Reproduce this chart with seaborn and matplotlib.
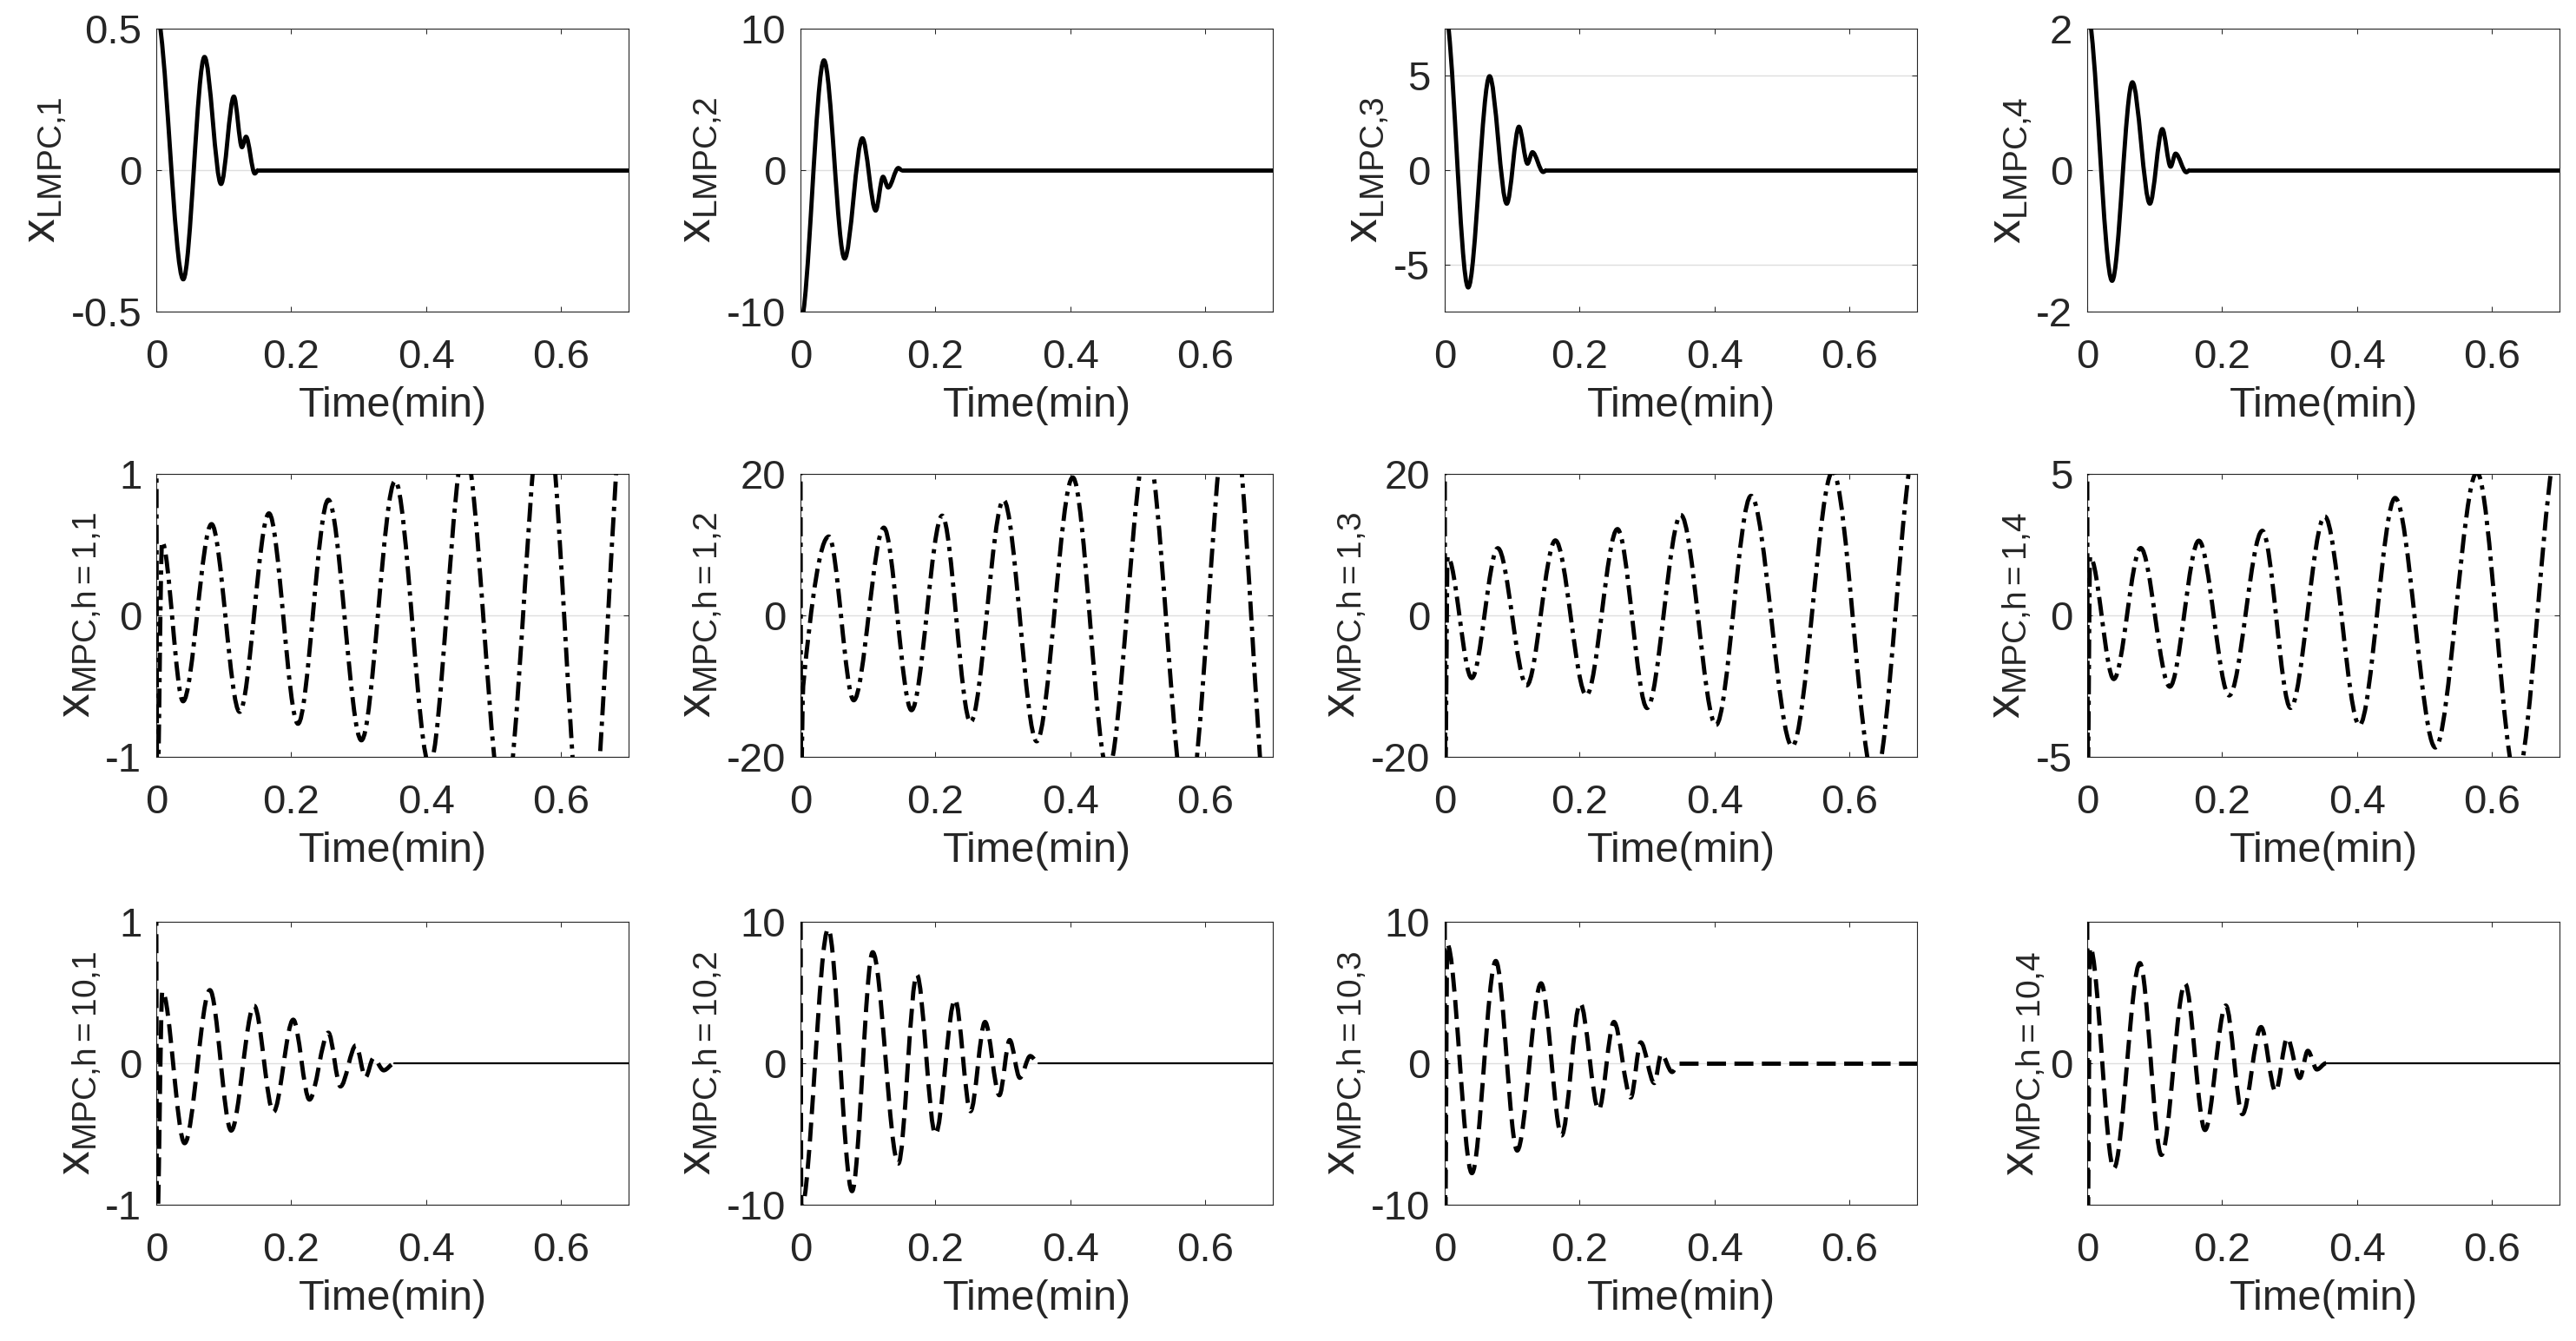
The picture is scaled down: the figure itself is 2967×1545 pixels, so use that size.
"""Closed-loop state trajectories: LMPC vs MPC (h=1, h=10), 3x4 grid."""

import matplotlib
matplotlib.use("Agg")
import matplotlib.pyplot as plt
from matplotlib.path import Path
from matplotlib.patches import PathPatch
from matplotlib.ticker import FormatStrFormatter
import numpy as np
import seaborn as sns

sns.set_theme(style="ticks")
plt.rcParams.update({
    "axes.unicode_minus": False,
    "mathtext.fontset": "custom",
    "mathtext.rm": "Liberation Sans",
    "mathtext.it": "Liberation Sans",
})
plt.rcParams["font.family"] = ["Liberation Sans", "DejaVu Sans"]
INK = "#262626"

# ── data (time in min, turning points of each trace) ──
# row 1: LMPC
t_l1 = [0, 0.040, 0.0715, 0.096, 0.115, 0.127, 0.133, 0.146, 0.151, 0.70]
x_l1 = [0.56, -0.386, 0.40, -0.049, 0.26, 0.081, 0.118, -0.012, 0.0, 0.0]
t_l2 = [0, 0.0348, 0.0654, 0.0917, 0.1114, 0.1223, 0.130, 0.145, 0.150, 0.70]
x_l2 = [-10.8, 7.76, -6.25, 2.25, -2.86, -0.47, -1.23, 0.15, 0.0, 0.0]
t_l3 = [0, 0.0348, 0.0665, 0.092, 0.110, 0.1227, 0.130, 0.146, 0.151, 0.70]
x_l3 = [8.6, -6.22, 4.98, -1.78, 2.30, 0.34, 0.95, -0.10, 0.0, 0.0]
t_l4 = [0, 0.0369, 0.067, 0.0929, 0.1113, 0.1236, 0.131, 0.147, 0.152, 0.70]
x_l4 = [2.25, -1.565, 1.242, -0.474, 0.58, 0.049, 0.233, -0.03, 0.0, 0.0]

# row 2: MPC, h=1
t_a1 = [0, 0.0012, 0.0086, 0.0397, 0.0819, 0.1235, 0.167, 0.210, 0.255, 0.304,
        0.354, 0.405, 0.457, 0.515, 0.575, 0.637, 0.705]
x_a1 = [1.4, -1.4, 0.52, -0.607, 0.645, -0.682, 0.721, -0.766, 0.817, -0.883,
        0.950, -1.06, 1.19, -1.39, 1.6, -1.85, 2.1]
t_a2 = [0, 0.0008, 0.004, 0.042, 0.0789, 0.1235, 0.1645, 0.210, 0.252, 0.301,
        0.350, 0.4035, 0.4555, 0.513, 0.573, 0.637, 0.702]
x_a2 = [24, -24, -10.0, 11.15, -12.0, 12.4, -13.4, 14.1, -15.1, 16.3,
        -17.8, 19.5, -22.0, 24.0, -28.0, 32.0, -37.0]
t_a3 = [0, 0.0008, 0.0043, 0.040, 0.0787, 0.1215, 0.164, 0.210, 0.256, 0.300,
        0.350, 0.402, 0.454, 0.515, 0.575, 0.637, 0.700]
x_a3 = [24, -24, 8.3, -8.86, 9.5, -9.9, 10.6, -11.3, 12.2, -13.1,
        14.2, -15.5, 16.9, -18.5, 20.3, -23.5, 25.0]
t_a4 = [0, 0.0008, 0.0043, 0.0394, 0.0793, 0.1224, 0.1655, 0.2104, 0.2596, 0.3014,
        0.352, 0.4035, 0.4564, 0.516, 0.5776, 0.636, 0.700]
x_a4 = [6, -6, 2.07, -2.25, 2.38, -2.52, 2.64, -2.83, 2.99, -3.27,
        3.50, -3.88, 4.15, -4.67, 5.05, -5.8, 6.3]

# row 3: MPC, h=10
t_b1 = [0, 0.0008, 0.009, 0.042, 0.0795, 0.111, 0.145, 0.1736, 0.203, 0.227,
        0.255, 0.273, 0.296, 0.310, 0.322, 0.337, 0.353, 0.70]
x_b1 = [1.3, -1.3, 0.51, -0.565, 0.517, -0.476, 0.407, -0.345, 0.308, -0.257,
        0.216, -0.164, 0.127, -0.10, 0.037, -0.05, 0.0, 0.0]
t_b2 = [0, 0.0012, 0.041, 0.0764, 0.107, 0.145, 0.1724, 0.200, 0.229, 0.252,
        0.2735, 0.2947, 0.310, 0.325, 0.3405, 0.353, 0.70]
x_b2 = [12, -10.3, 9.5, -9.04, 7.85, -7.09, 6.27, -5.03, 4.52, -3.39,
        2.92, -2.26, 1.64, -1.03, 0.51, 0.0, 0.0]
t_b3 = [0, 0.0008, 0.0037, 0.0403, 0.0757, 0.1074, 0.1428, 0.1733, 0.2008, 0.2282,
        0.2508, 0.2758, 0.2905, 0.3106, 0.321, 0.337, 0.347, 0.70]
x_b3 = [12, -12, 8.43, -7.77, 7.23, -6.17, 5.65, -5.10, 4.25, -3.29,
        2.92, -2.42, 1.48, -1.40, 0.66, -0.62, 0.0, 0.0]
t_b4 = [0, 0.0008, 0.0043, 0.0394, 0.0781, 0.110, 0.145, 0.1746, 0.2054, 0.230,
        0.2577, 0.2792, 0.2965, 0.315, 0.327, 0.3404, 0.354, 0.70]
x_b4 = [3, -3, 2.05, -1.86, 1.77, -1.62, 1.41, -1.18, 1.02, -0.90,
        0.64, -0.50, 0.45, -0.26, 0.22, -0.11, 0.0, 0.0]

SERIES = [[(t_l1, x_l1), (t_l2, x_l2), (t_l3, x_l3), (t_l4, x_l4)],
          [(t_a1, x_a1), (t_a2, x_a2), (t_a3, x_a3), (t_a4, x_a4)],
          [(t_b1, x_b1), (t_b2, x_b2), (t_b3, x_b3), (t_b4, x_b4)]]
YLIM = [[0.5, 10, 7.5, 2], [1, 20, 20, 5], [1, 10, 10, 2.5]]
YTICKS = [[[-0.5, 0, 0.5], [-10, 0, 10], [-5, 0, 5], [-2, 0, 2]],
          [[-1, 0, 1], [-20, 0, 20], [-20, 0, 20], [-5, 0, 5]],
          [[-1, 0, 1], [-10, 0, 10], [-10, 0, 10], [0]]]
SUBS = ["LMPC", "MPC{,}h=1", "MPC{,}h=10"]
XTICKS = [0, 0.2, 0.4, 0.6]

LW = 3.5
ROW_LS = ["-", (0, (4.5, 1.5, 1.0, 1.5)), (0, (4.5, 2.0))]
THIN_TAIL = [True, True, False, True]   # row 3: settled part drawn thin


def smooth_path(t, x):
    """Cubic Bezier through the turning points (flat tangent at extrema)."""
    t = np.asarray(t, float); x = np.asarray(x, float)
    d = np.diff(x) / np.diff(t)
    m = np.zeros_like(x)
    for i in range(1, len(x) - 1):
        if d[i - 1] * d[i] > 0:
            m[i] = 2.0 / (1.0 / d[i - 1] + 1.0 / d[i])
    verts = [(t[0], x[0])]; codes = [Path.MOVETO]
    for i in range(len(t) - 1):
        h = t[i + 1] - t[i]
        verts += [(t[i] + h / 3, x[i] + m[i] * h / 3),
                  (t[i + 1] - h / 3, x[i + 1] - m[i + 1] * h / 3),
                  (t[i + 1], x[i + 1])]
        codes += [Path.CURVE4] * 3
    return Path(verts, codes)


W, H = 2967, 1545
LEFTS = [180, 922, 1664, 2404]
TOPS = [33, 546, 1062]
AW, AH = 544, 326

fig = plt.figure(figsize=(W / 100, H / 100), dpi=100)
for r in range(3):
    for c in range(4):
        ax = fig.add_axes([LEFTS[c] / W, 1 - (TOPS[r] + AH) / H, AW / W, AH / H])
        t, x = SERIES[r][c]
        n = len(t) if r == 1 else len(t) - 1
        ax.add_patch(PathPatch(smooth_path(t[:n], x[:n]), fill=False, edgecolor="black",
                               lw=LW, linestyle=ROW_LS[r], joinstyle="round", zorder=3))
        if r != 1:
            thin = r == 2 and THIN_TAIL[c]
            sns.lineplot(x=t[-2:], y=x[-2:], ax=ax, color="black", errorbar=None,
                         lw=1.6 if thin else LW, linestyle="-" if thin else ROW_LS[r], zorder=3)
        ax.set_xlim(0, 0.7); ax.set_ylim(-YLIM[r][c], YLIM[r][c])
        ax.set_xticks(XTICKS); ax.set_yticks(YTICKS[r][c])
        ax.xaxis.set_major_formatter(FormatStrFormatter("%g"))
        ax.yaxis.set_major_formatter(FormatStrFormatter("%g"))
        ax.yaxis.grid(True, color="#dedede", lw=1.0); ax.xaxis.grid(False); ax.set_axisbelow(True)
        ax.tick_params(direction="in", top=True, right=True, length=4.3, width=0.75,
                       colors=INK, labelsize=34)
        ax.tick_params(axis="x", pad=22); ax.tick_params(axis="y", pad=12)
        for s in ax.spines.values():
            s.set_color(INK); s.set_linewidth(0.8)
        ax.set_xlabel("Time(min)", fontsize=35, labelpad=8, color=INK)
        ax.set_ylabel(r"$\mathregular{x_{%s{,}%d}}$" % (SUBS[r], c + 1), fontsize=40,
                      labelpad=2, color=INK)

fig.savefig("out.png", dpi=100, facecolor="white")
